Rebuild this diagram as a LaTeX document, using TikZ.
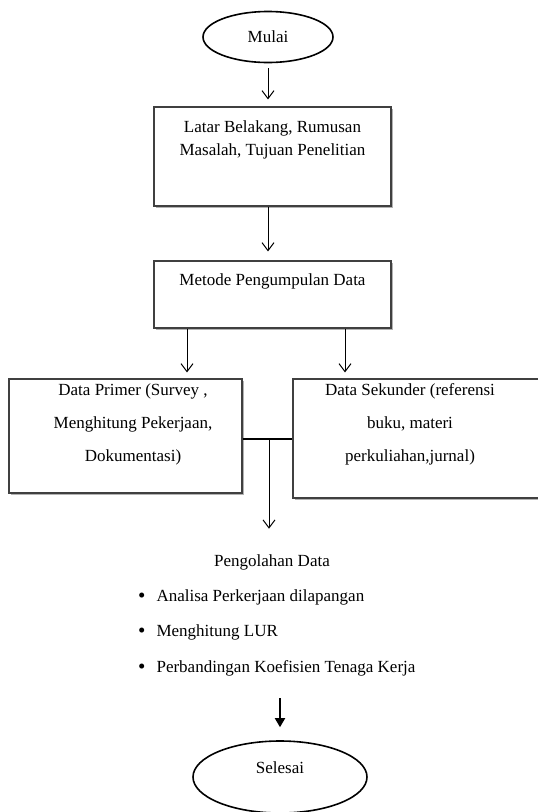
\documentclass[tikz,border=0pt]{standalone}
\usepackage{fontspec}
\setmainfont{Liberation Serif}
\usetikzlibrary{arrows.meta,shapes.geometric,shadows,positioning}

\newcommand{\dotitem}{\raisebox{-1.5pt}{\fontsize{21}{21}\selectfont\textbullet}\hspace{11pt}}

\begin{document}
\begin{tikzpicture}[x=1pt,y=-1pt,
                    font=\fontsize{17}{23}\selectfont,
                    >={Straight Barb[length=8pt,width=12pt,line width=1pt]},
                    box node/.style={rectangle,draw=black!75,line width=1.1pt,fill=white,
                      drop shadow={shadow xshift=1.5pt,shadow yshift=-1.5pt,fill=black!30,opacity=1}},
                    oval node/.style={ellipse,draw,line width=1.6pt},
                    fat arrow/.style={-{Triangle[length=9pt,width=10pt]},line width=1.8pt}]

  \useasboundingbox (0,0) rectangle (538,812);

  \node[oval node,minimum width=130pt,minimum height=51pt] (1) at (268,37) {Mulai};
  \node[box node,minimum width=237pt,minimum height=99pt] (2) at (272.5,156.5)
    [label={[anchor=north,yshift=-11pt,align=center]north:{Latar Belakang, Rumusan\\Masalah, Tujuan Penelitian}}] {};
  \node[box node,minimum width=237pt,minimum height=67pt] (3) at (272.5,294.5)
    [label={[anchor=north,yshift=-10pt]north:Metode Pengumpulan Data}] {};

  \node[box node,minimum width=233pt,minimum height=114pt] (4) at (125.5,436)
    [label={[anchor=north,xshift=7.5pt,yshift=-1.5pt,align=center,font=\fontsize{17}{33}\selectfont]north:{Data Primer (Survey ,\\Menghitung Pekerjaan,\\Dokumentasi)}}] {};
  \node[box node,minimum width=255pt,minimum height=119pt] (5) at (420.5,438.5)
    [label={[anchor=north,xshift=-10.5pt,yshift=-1.5pt,align=center,font=\fontsize{17}{33}\selectfont]north:{Data Sekunder (referensi\\buku, materi\\perkuliahan,jurnal)}}] {};

  \node (6) at (272,562) {Pengolahan Data};
  \node[anchor=west,inner sep=0pt] (b1) at (138,597) {\dotitem Analisa Perkerjaan dilapangan};
  \node[anchor=west,inner sep=0pt] (b2) at (138,632) {\dotitem Menghitung LUR};
  \node[anchor=west,inner sep=0pt] (b3) at (138,668) {\dotitem Perbandingan Koefisien Tenaga Kerja};

  \node[oval node,minimum width=174pt,minimum height=72pt] (7) at (280,777)
    [label={[yshift=9pt]center:Selesai}] {};

  \coordinate (j) at (269,439);

  \draw[->,line width=1pt,shorten <=5pt,shorten >=7pt] (1.south) -- (1.south |- 2.north);
  \draw[->,line width=1pt,shorten >=9pt] ([xshift=-4.5pt]2.south) -- ([xshift=-4.5pt]3.north);
  \draw[->,line width=1pt,shorten >=6pt] ([xshift=-85.5pt]3.south) -- ([xshift=-85.5pt]3.south |- 4.north);
  \draw[->,line width=1pt,shorten >=6pt] ([xshift=72.5pt]3.south) -- ([xshift=72.5pt]3.south |- 4.north);
  \draw[line width=1.4pt] (j -| 4.east) -- (j -| 5.west);
  \draw[->,line width=1pt,shorten >=22pt] (j) -- (j |- 6.north);
  \draw[fat arrow,shorten <=22pt,shorten >=13pt] (b3.south -| 7) -- (7.north);

\end{tikzpicture}
\end{document}
